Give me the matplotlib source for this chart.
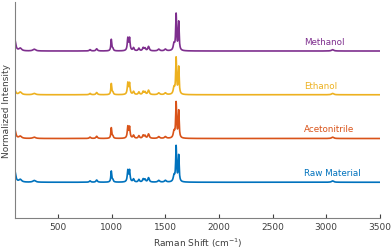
import numpy as np
import matplotlib
matplotlib.use("Agg")
import matplotlib.pyplot as plt

# ---- data ----
series_names = ["Raw Material", "Acetonitrile", "Ethanol", "Methanol"]
series_colors = ["#0072BD", "#D95319", "#EDB120", "#7E2F8E"]
offsets = [0.0, 1.0, 2.0, 3.0]

peak_pos = [100, 150, 280, 800, 862, 998, 1012, 1152, 1168, 1205, 1255, 1295, 1312, 1345, 1440, 1502, 1582, 1602, 1626, 3060]
peak_hwhm = [10, 15, 15, 8, 8, 5, 6, 6, 6, 7, 7, 7, 7, 8, 10, 10, 8, 5, 5, 12]

raw_h =   [0.25, 0.06, 0.04, 0.03, 0.05, 0.25, 0.05, 0.26, 0.26, 0.07, 0.06, 0.07, 0.06, 0.10, 0.04, 0.04, 0.14, 0.80, 0.60, 0.03]
acn_h =   [0.20, 0.05, 0.03, 0.03, 0.05, 0.24, 0.05, 0.26, 0.25, 0.07, 0.06, 0.07, 0.06, 0.10, 0.04, 0.04, 0.15, 0.80, 0.62, 0.03]
eth_h =   [0.10, 0.06, 0.03, 0.03, 0.05, 0.25, 0.05, 0.26, 0.25, 0.07, 0.06, 0.07, 0.06, 0.10, 0.04, 0.04, 0.15, 0.82, 0.62, 0.03]
meth_h =  [0.25, 0.06, 0.04, 0.03, 0.05, 0.26, 0.05, 0.28, 0.28, 0.07, 0.06, 0.07, 0.06, 0.10, 0.04, 0.04, 0.15, 0.82, 0.65, 0.03]
heights = [raw_h, acn_h, eth_h, meth_h]

x_ticks = [500, 1000, 1500, 2000, 2500, 3000, 3500]
label_x = 2790

shift = np.arange(100, 3501, 1.0)


def spectrum(h):
    y = np.zeros_like(shift)
    for p, w, a in zip(peak_pos, peak_hwhm, h):
        y += a * w**2 / ((shift - p) ** 2 + w**2)
    return y


fig = plt.figure(figsize=(3.92, 2.51), dpi=100)
ax = fig.add_axes([0.038, 0.127, 0.931, 0.861])

for name, col, off, h in zip(series_names, series_colors, offsets, heights):
    ax.plot(shift, spectrum(h) + off, color=col, lw=1.2)
    ax.text(label_x, off + 0.12, name, color=col, fontsize=6.3, ha="left", va="bottom")

ax.set_xlim(100, 3500)
ax.set_ylim(-0.82, 4.12)
ax.set_xticks(x_ticks)
ax.set_yticks([])
ax.tick_params(axis="x", direction="in", length=3, labelsize=6.5, colors="#404040", pad=3)
for s in ["top", "right"]:
    ax.spines[s].set_visible(False)
for s in ["left", "bottom"]:
    ax.spines[s].set_color("#808080")
    ax.spines[s].set_linewidth(0.8)
ax.set_xlabel("Raman Shift (cm$^{-1}$)", fontsize=6.5, color="#404040", labelpad=3)
ax.set_ylabel("Normalized Intensity", fontsize=6.5, color="#404040", labelpad=3)

fig.savefig("out.png", dpi=100)
